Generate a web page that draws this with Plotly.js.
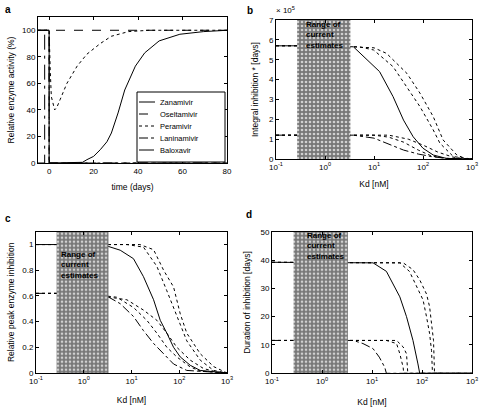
<!DOCTYPE html>
<html><head><meta charset="utf-8">
<script src="https://cdn.plot.ly/plotly-3.0.1.min.js"></script>
<style>html,body{margin:0;padding:0;background:#fff}#chart{width:480px;height:408px}</style>
</head><body><div id="chart"></div>
<script>
// ---------- Panel a : activity vs time ----------
const legendNames = ["Zanamivir", "Oseltamivir", "Peramivir", "Laninamivir", "Baloxavir"];
const aT1 = [-5, 0, 0, 10, 15, 17, 20, 23, 26, 28, 31, 34, 38.8, 43, 49.5, 58.8, 69.5, 80];
const aV1 = [100, 100, 0, 0, 0.5, 2.5, 5, 10, 16, 22.6, 37.7, 55, 73, 83, 92, 97, 99, 100];
const aT2 = [-5, 0, 20, 40, 60, 80];
const aV2 = [100, 100, 100, 100, 100, 100];
const aT3 = [-5, 0, 0.5, 1, 2.5, 3.5, 5, 8, 12.6, 17, 23, 28, 35.7, 45, 60, 80];
const aV3 = [100, 100, 70, 50, 40, 42, 48, 60, 73, 82, 90, 95.5, 99, 100, 100, 100];
const aT4 = [-5, 0, 0, 20, 40, 60, 80];
const aV4 = [100, 100, 0, 0, 0, 0, 0];
const aT5 = [-5, -2, -2, 0, 0, 40, 80];
const aV5 = [0, 0, 100, 100, 0, 0, 0];

// ---------- shaded range of current estimates (nM) ----------
const shadeLo = 0.27, shadeHi = 3.3;

// ---------- Panel b : integral (x 10^5) ----------
const bK1 = [0.1, 1, 3.8, 13, 24.5, 40, 63, 100, 162, 300, 1000];
const bV1 = [5.7, 5.7, 5.65, 4.4, 3.14, 1.96, 1.12, 0.54, 0.2, 0.03, 0];
const bK2 = [0.1, 1, 5, 9.8, 24.5, 47, 87, 162, 222, 417, 1000];
const bV2 = [5.7, 5.7, 5.65, 5.49, 4.65, 3.64, 2.63, 1.46, 0.79, 0.12, 0];
const bK3 = [0.1, 1, 10, 18, 47, 87, 162, 257, 490, 776, 1000];
const bV3 = [5.7, 5.7, 5.6, 5.32, 4.31, 3.31, 2.13, 0.96, 0.2, 0, 0];
const bK4 = [0.1, 1, 3.8, 10, 20, 40, 80, 150, 300, 1000];
const bV4 = [1.2, 1.2, 1.2, 1.05, 0.75, 0.45, 0.25, 0.12, 0.03, 0];
const bK5 = [0.1, 1, 10, 20, 40, 80, 150, 300, 1000];
const bV5 = [1.2, 1.2, 1.2, 1.1, 0.85, 0.45, 0.15, 0.03, 0];
const bK6 = [0.1, 1, 20, 50, 100, 200, 400, 700, 1000];
const bV6 = [1.2, 1.2, 1.2, 1.0, 0.7, 0.35, 0.1, 0.01, 0];

// ---------- Panel c : relative peak inhibition ----------
const cK1 = [0.1, 1, 3, 5.8, 11, 17.8, 29, 40, 55, 76, 105, 170, 275, 1000];
const cV1 = [1, 1, 0.99, 0.956, 0.89, 0.75, 0.57, 0.41, 0.31, 0.2, 0.125, 0.06, 0.02, 0];
const cK2 = [0.1, 1, 8, 17.8, 34, 55, 89, 144, 275, 525, 1000];
const cV2 = [1, 1, 1, 0.98, 0.83, 0.64, 0.44, 0.25, 0.1, 0.02, 0];
const cK3 = [0.1, 1, 15, 29, 47, 76, 105, 144, 275, 525, 850, 1000];
const cV3 = [1, 1, 1, 0.96, 0.8, 0.67, 0.46, 0.31, 0.15, 0.05, 0.01, 0];
const cK4 = [0.1, 1, 3, 5.8, 11, 17.8, 29, 47, 76, 144, 1000];
const cV4 = [0.62, 0.62, 0.6, 0.54, 0.44, 0.33, 0.23, 0.15, 0.07, 0.02, 0];
const cK5 = [0.1, 1, 4.9, 11, 21, 34, 55, 89, 170, 275, 1000];
const cV5 = [0.62, 0.62, 0.59, 0.51, 0.41, 0.31, 0.2, 0.125, 0.047, 0.015, 0];
const cK6 = [0.1, 1, 8, 17.8, 34, 55, 89, 170, 325, 615, 1000];
const cV6 = [0.62, 0.62, 0.57, 0.49, 0.41, 0.31, 0.2, 0.1, 0.034, 0.008, 0];

// ---------- Panel d : duration (days) ----------
const dK1 = [0.1, 1, 4.2, 10.5, 19.4, 26, 36, 49, 66, 83, 90, 1000];
const dV1 = [39.2, 39.2, 39.2, 39, 36, 31.8, 27, 20, 11.6, 3.3, 0, 0];
const dK2 = [0.1, 1, 16.6, 36, 56, 77, 105, 123, 142, 155, 162, 1000];
const dV2 = [39.2, 39.2, 39.2, 39, 36, 30.6, 25.9, 20, 14, 8, 0, 0];
const dK3 = [0.1, 1, 30, 42, 66, 90, 123, 142, 155, 170, 178, 1000];
const dV3 = [39.2, 39.2, 39.2, 39, 36.6, 33, 28, 23.5, 17.6, 11.6, 0, 0];
const dK4 = [0.1, 1, 4.2, 6.6, 10.5, 14, 18, 19.4, 1000];
const dV4 = [11.6, 11.6, 11.6, 10.5, 8.7, 5.7, 2.1, 0, 0];
const dK5 = [0.1, 1, 19.4, 31, 36, 42, 43, 1000];
const dV5 = [11.6, 11.6, 11.6, 10.5, 6.9, 2.1, 0, 0];
const dK6 = [0.1, 1, 31, 42, 49, 52, 1000];
const dV6 = [11.6, 11.6, 11.6, 9.3, 6.9, 0, 0];

const dashes = ["solid", "dash", "dot", "dashdot", "longdashdot", "dot"];
const FONT = "Liberation Sans, Arial, sans-serif";

function ln(x, y, xa, ya, i, name) {
  return {x: x, y: y, xaxis: xa, yaxis: ya, type: "scatter", mode: "lines",
    name: name || "", showlegend: false,
    line: {color: "black", width: 1, dash: dashes[i]}, hoverinfo: "skip"};
}
function shade(xa, ya, top) {
  return {x: [shadeLo, shadeHi, shadeHi, shadeLo, shadeLo], y: [0, 0, top, top, 0],
    xaxis: xa, yaxis: ya, type: "scatter", mode: "lines", fill: "toself", showlegend: false,
    line: {width: 0}, fillcolor: "#858585",
    fillpattern: {shape: ".", bgcolor: "#777777", fgcolor: "#d0d0d0", size: 4, solidity: 0.35},
    hoverinfo: "skip"};
}

const traces = [
  ln(aT1, aV1, "x", "y", 0, legendNames[0]),
  ln(aT2, aV2, "x", "y", 1, legendNames[1]),
  ln(aT3, aV3, "x", "y", 2, legendNames[2]),
  ln(aT4, aV4, "x", "y", 3, legendNames[3]),
  ln(aT5, aV5, "x", "y", 4, legendNames[4]),

  ln(bK1, bV1, "x2", "y2", 0), ln(bK2, bV2, "x2", "y2", 2), ln(bK3, bV3, "x2", "y2", 2),
  ln(bK4, bV4, "x2", "y2", 3), ln(bK5, bV5, "x2", "y2", 2), ln(bK6, bV6, "x2", "y2", 2),
  shade("x2", "y2", 7),

  ln(cK1, cV1, "x3", "y3", 0), ln(cK2, cV2, "x3", "y3", 2), ln(cK3, cV3, "x3", "y3", 2),
  ln(cK4, cV4, "x3", "y3", 3), ln(cK5, cV5, "x3", "y3", 2), ln(cK6, cV6, "x3", "y3", 2),
  shade("x3", "y3", 1.1),

  ln(dK1, dV1, "x4", "y4", 0), ln(dK2, dV2, "x4", "y4", 2), ln(dK3, dV3, "x4", "y4", 2),
  ln(dK4, dV4, "x4", "y4", 3), ln(dK5, dV5, "x4", "y4", 2), ln(dK6, dV6, "x4", "y4", 2),
  shade("x4", "y4", 50)
];

const logVals = [0.1, 1, 10, 100, 1000];
const logText = ["10<sup>-1</sup>", "10<sup>0</sup>", "10<sup>1</sup>", "10<sup>2</sup>", "10<sup>3</sup>"];

function ax(extra) {
  return Object.assign({showline: true, mirror: "allticks", linecolor: "black", linewidth: 1,
    ticks: "inside", ticklen: 3, tickcolor: "black", showgrid: false, zeroline: false,
    tickfont: {size: 8, family: FONT, color: "black"}, fixedrange: true}, extra);
}
function tt(text, standoff) { return {text: text, font: {size: 8.5, family: FONT, color: "black"}, standoff: standoff}; }

const W = 480, H = 408;
const px = (a, b) => [a / W, b / W];
const py = (top, bot) => [1 - bot / H, 1 - top / H];

// ---------- hand-built legend box for panel a (legend frame, not data) ----------
const legBox = {x0: 137, x1: 225, y0: 92, y1: 162};
const legRows = [102, 114, 126, 138, 150];
const shapes = [{type: "rect", xref: "paper", yref: "paper", x0: legBox.x0 / W, x1: legBox.x1 / W,
  y0: 1 - legBox.y1 / H, y1: 1 - legBox.y0 / H, line: {color: "black", width: 1}, fillcolor: "white", layer: "above"}];
const legAnn = [];
legendNames.forEach((nm, i) => {
  shapes.push({type: "line", xref: "paper", yref: "paper", x0: 139 / W, x1: 155 / W,
    y0: 1 - legRows[i] / H, y1: 1 - legRows[i] / H, line: {color: "black", width: 1, dash: dashes[i]}, layer: "above"});
  legAnn.push({text: nm, x: 158 / W, y: 1 - legRows[i] / H, xref: "paper", yref: "paper",
    xanchor: "left", yanchor: "middle", showarrow: false, font: {size: 7.5, family: FONT, color: "black"}});
});

const est = "<b>Range of<br>current<br>estimates</b>";
const layout = {
  width: W, height: H, margin: {l: 0, r: 0, t: 0, b: 0},
  paper_bgcolor: "white", plot_bgcolor: "white", showlegend: false,
  font: {family: FONT, size: 8, color: "black"},
  xaxis: ax({domain: px(38, 227), anchor: "y", range: [-5, 80], tickvals: [0, 20, 40, 60, 80], title: tt("time (days)", 9)}),
  yaxis: ax({domain: py(17, 163), anchor: "x", range: [0, 110], tickvals: [0, 20, 40, 60, 80, 100], title: tt("Relative enzyme activity (%)", 6)}),
  xaxis2: ax({domain: px(276, 472), anchor: "y2", type: "log", range: [-1, 3], tickvals: logVals, ticktext: logText, title: tt("Kd [nM]", 10)}),
  yaxis2: ax({domain: py(20, 159), anchor: "x2", range: [0, 7], tickvals: [0, 1, 2, 3, 4, 5, 6, 7], title: tt("Integral inhibition * [days]", 8)}),
  xaxis3: ax({domain: px(36, 227), anchor: "y3", type: "log", range: [-1, 3], tickvals: logVals, ticktext: logText, title: tt("Kd [nM]", 12)}),
  yaxis3: ax({domain: py(231.7, 373), anchor: "x3", range: [0, 1.1], tickvals: [0, 0.2, 0.4, 0.6, 0.8, 1], title: tt("Relative peak enzyme inhibition", 6)}),
  xaxis4: ax({domain: px(272, 472), anchor: "y4", type: "log", range: [-1, 3], tickvals: logVals, ticktext: logText, title: tt("Kd [nM]", 14)}),
  yaxis4: ax({domain: py(231.7, 373.3), anchor: "x4", range: [0, 50], tickvals: [0, 10, 20, 30, 40, 50], title: tt("Duration of inhibition [days]", 8)}),
  shapes: shapes,
  annotations: legAnn.concat([
    {text: "<b>a</b>", x: 3 / W, y: 1 - 9 / H, xref: "paper", yref: "paper", xanchor: "left", yanchor: "middle", showarrow: false, font: {size: 10, family: FONT}},
    {text: "<b>b</b>", x: 245 / W, y: 1 - 10 / H, xref: "paper", yref: "paper", xanchor: "left", yanchor: "middle", showarrow: false, font: {size: 10, family: FONT}},
    {text: "<b>c</b>", x: 3 / W, y: 1 - 218 / H, xref: "paper", yref: "paper", xanchor: "left", yanchor: "middle", showarrow: false, font: {size: 10, family: FONT}},
    {text: "<b>d</b>", x: 244 / W, y: 1 - 214 / H, xref: "paper", yref: "paper", xanchor: "left", yanchor: "middle", showarrow: false, font: {size: 10, family: FONT}},
    {text: "× 10<sup>5</sup>", x: 274 / W, y: 1 - 10 / H, xref: "paper", yref: "paper", xanchor: "left", yanchor: "middle", showarrow: false, font: {size: 8, family: FONT}},
    {text: est, x: 304 / W, y: 1 - 18 / H, xref: "paper", yref: "paper", xanchor: "left", yanchor: "top", align: "left", showarrow: false, font: {size: 8, family: FONT, color: "black"}},
    {text: est, x: 59 / W, y: 1 - 248 / H, xref: "paper", yref: "paper", xanchor: "left", yanchor: "top", align: "left", showarrow: false, font: {size: 8, family: FONT, color: "black"}},
    {text: est, x: 305 / W, y: 1 - 229 / H, xref: "paper", yref: "paper", xanchor: "left", yanchor: "top", align: "left", showarrow: false, font: {size: 8, family: FONT, color: "black"}}
  ])
};

Plotly.newPlot("chart", traces, layout, {staticPlot: true, displayModeBar: false});
</script></body></html>
